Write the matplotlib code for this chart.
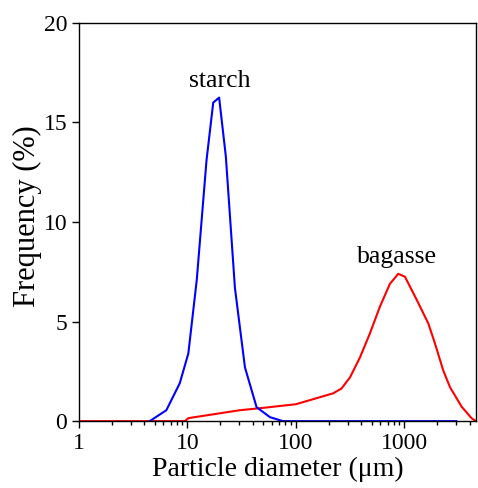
import matplotlib.pyplot as plt
from matplotlib.ticker import FixedLocator, LogLocator, NullFormatter

plt.rcParams['font.family'] = ['Liberation Serif', 'DejaVu Serif']

# starch (blue)
starch_d = [4.5, 6.4, 8.5, 10.2, 12.2, 15.0, 17.3, 19.6, 22.6, 27.4, 33.9,
            43.4, 57.6, 76, 3000]
starch_f = [0, 0.55, 1.9, 3.4, 7.1, 13.1, 16.0, 16.25, 13.3, 6.7, 2.7,
            0.7, 0.2, 0, 0]

# bagasse (red)
bagasse_d = [1, 9.5, 10.2, 30.5, 46.6, 100, 221, 263, 315, 389, 480, 594,
             735, 877, 1011, 1295, 1660, 1910, 2275, 2630, 3370, 4165, 4550]
bagasse_f = [0, 0, 0.15, 0.55, 0.65, 0.85, 1.4, 1.64, 2.2, 3.2, 4.4, 5.75,
             6.9, 7.4, 7.25, 6.1, 4.9, 3.9, 2.55, 1.7, 0.72, 0.14, 0]

x_ticks = [1, 10, 100, 1000]
x_labels = ['1', '10', '100', '1000']
y_ticks = [0, 5, 10, 15, 20]

fig = plt.figure(figsize=(4.78, 4.88), dpi=100)
ax = fig.add_axes([0.165, 0.137, 0.831, 0.816])

ax.plot(bagasse_d, bagasse_f, color='#ff0000', lw=1.5)
ax.plot(starch_d, starch_f, color='#0000ff', lw=1.5)

ax.set_xscale('log')
ax.set_xlim(1, 4570)
ax.set_ylim(0, 20)
ax.xaxis.set_major_locator(FixedLocator(x_ticks))
ax.set_xticklabels(x_labels)
ax.xaxis.set_minor_locator(LogLocator(base=10, subs=range(2, 10)))
ax.xaxis.set_minor_formatter(NullFormatter())
ax.set_yticks(y_ticks)

ax.tick_params(which='major', direction='out', length=5, width=1, labelsize=17)
ax.tick_params(which='minor', direction='out', length=3, width=1)
for s in ax.spines.values():
    s.set_linewidth(1)

ax.set_xlabel('Particle diameter (\u03bcm)', fontsize=20, labelpad=2)
ax.set_ylabel('Frequency (%)', fontsize=22, va='center')
ax.yaxis.set_label_coords(-0.13, 0.515)

ax.text(19.8, 16.8, 'starch', fontsize=18.5, ha='center', va='baseline')
ax.text(861, 7.94, 'bagasse', fontsize=18.5, ha='center', va='baseline')

fig.savefig('out.png', dpi=100)
